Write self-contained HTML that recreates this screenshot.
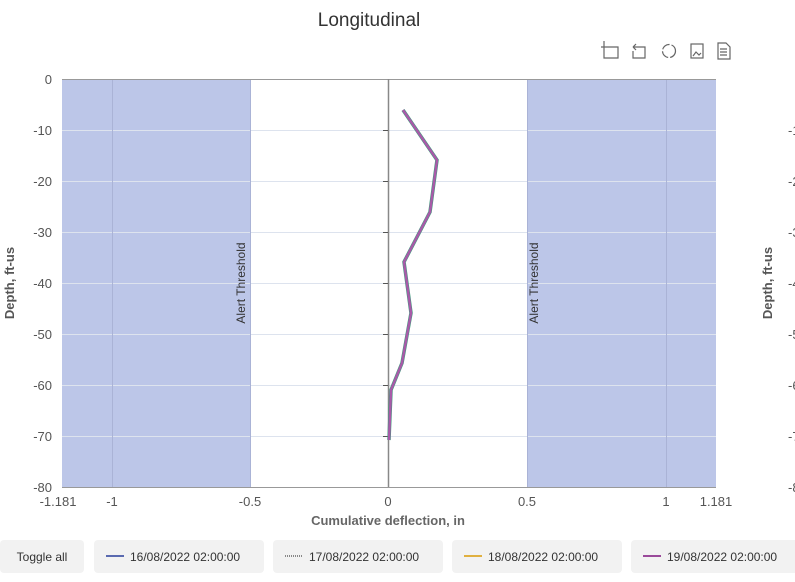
<!DOCTYPE html><html><head><style>body{margin:0;background:#fff;width:795px;height:577px;overflow:hidden;font-family:"Liberation Sans",sans-serif}</style></head><body>
<svg width="795" height="577" xmlns="http://www.w3.org/2000/svg" font-family="Liberation Sans, sans-serif">
<text x="369" y="26" font-size="19" fill="#333" text-anchor="middle">Longitudinal</text>
<g stroke="#666" fill="none" stroke-width="1.2">
<path d="M604 44v14h14v-11h-11M601 47h6M604 44v-3"/>
<path d="M633 47h12v11h-12v-7M633 47l3-3M633 47l3 3"/>
<circle cx="669" cy="51" r="6.5" stroke-dasharray="9 2"/>
<rect x="691" y="44" width="12" height="14"/><path d="M693 56l3-4 3 3 2-2"/>
<path d="M718 43h8l4 4v12h-12zM720 49h7M720 52h7M720 55h7"/>
</g>
<rect x="62" y="79" width="188" height="408" fill="#bcc6e8"/>
<rect x="527" y="79" width="189" height="408" fill="#bcc6e8"/>
<g stroke="#dde3ee" stroke-width="1">
<path d="M62 130.5H716M62 181.5H716M62 232.5H716M62 283.5H716M62 334.5H716M62 385.5H716M62 436.5H716"/>
<path d="M112.5 79V487M250.5 79V487M527.5 79V487M666.5 79V487" stroke="#aab3d6"/>
</g>
<path d="M62 79.5H716M62 487.5H716" stroke="#999"/>
<path d="M388.5 79V487" stroke="#888" stroke-width="1.5"/>
<g stroke="#555"><path d="M383 130.5h5M383 181.5h5M383 232.5h5M383 283.5h5M383 334.5h5M383 385.5h5M383 436.5h5"/></g>
<g font-size="13" fill="#555" text-anchor="end">
<text x="52" y="84">0</text><text x="52" y="135">-10</text><text x="52" y="186">-20</text><text x="52" y="237">-30</text><text x="52" y="288">-40</text><text x="52" y="339">-50</text><text x="52" y="390">-60</text><text x="52" y="441">-70</text><text x="52" y="492">-80</text>
</g>
<g font-size="13" fill="#555" text-anchor="middle">
<text x="58" y="506">-1.181</text><text x="112" y="506">-1</text><text x="250" y="506">-0.5</text><text x="388" y="506">0</text><text x="527" y="506">0.5</text><text x="666" y="506">1</text><text x="716" y="506">1.181</text>
</g>
<text x="388" y="525" font-size="13" font-weight="bold" fill="#666" text-anchor="middle">Cumulative deflection, in</text>
<text transform="translate(14 283) rotate(-90)" font-size="13" font-weight="bold" fill="#555" text-anchor="middle">Depth, ft-us</text>
<text transform="translate(772 283) rotate(-90)" font-size="13" font-weight="bold" fill="#555" text-anchor="middle">Depth, ft-us</text>
<g font-size="13" fill="#555"><text x="788" y="135">-1</text><text x="788" y="186">-2</text><text x="788" y="237">-3</text><text x="788" y="288">-4</text><text x="788" y="339">-5</text><text x="788" y="390">-6</text><text x="788" y="441">-7</text><text x="788" y="492">-8</text></g>
<text transform="translate(245 283) rotate(-90)" font-size="12" fill="#333" text-anchor="middle">Alert Threshold</text>
<text transform="translate(538 283) rotate(-90)" font-size="12" fill="#333" text-anchor="middle">Alert Threshold</text>
<polyline points="403,110 437,160 430,212 404,262 411,313 402,363 391,390 389,440" fill="none" stroke="#3a9a7a" stroke-width="3.5"/>
<polyline points="403,110 437,160 430,212 404,262 411,313 402,363 391,390 389,440" fill="none" stroke="#a85aa8" stroke-width="2.5"/>
<g font-size="12" fill="#333">
<rect x="0" y="540" width="84" height="33" rx="4" fill="#f2f2f2"/><text x="42" y="561" text-anchor="middle">Toggle all</text>
<rect x="94" y="540" width="170" height="33" rx="4" fill="#f2f2f2"/><path d="M106 556h18" stroke="#5a6ab0" stroke-width="2"/><text x="130" y="561">16/08/2022 02:00:00</text>
<rect x="273" y="540" width="170" height="33" rx="4" fill="#f2f2f2"/><path d="M285 556h18" stroke="#888" stroke-width="2" stroke-dasharray="1 1"/><text x="309" y="561">17/08/2022 02:00:00</text>
<rect x="452" y="540" width="170" height="33" rx="4" fill="#f2f2f2"/><path d="M464 556h18" stroke="#e0b040" stroke-width="2"/><text x="488" y="561">18/08/2022 02:00:00</text>
<rect x="631" y="540" width="170" height="33" rx="4" fill="#f2f2f2"/><path d="M643 556h18" stroke="#9a4a9a" stroke-width="2"/><text x="667" y="561">19/08/2022 02:00:00</text>
</g>
</svg></body></html>
